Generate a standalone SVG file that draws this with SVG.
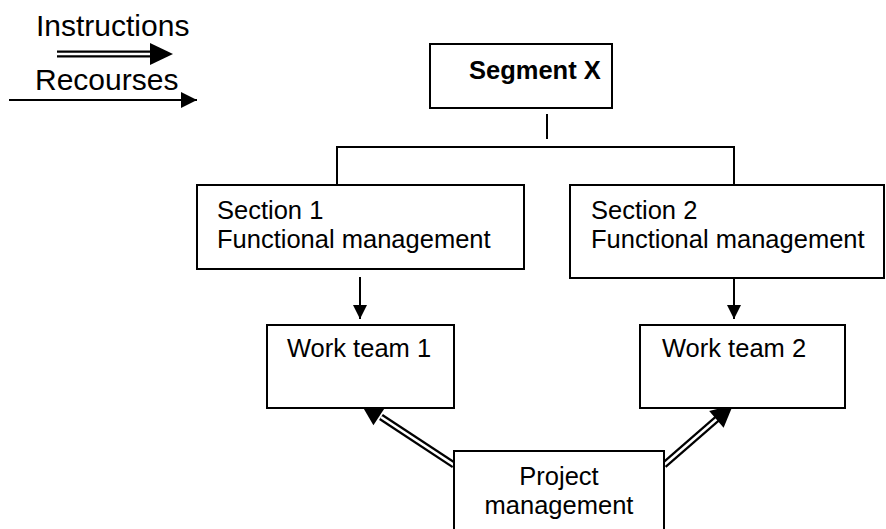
<svg xmlns="http://www.w3.org/2000/svg" width="886" height="529" viewBox="0 0 886 529">
<style>
  .box { fill: #ffffff; stroke: #000000; stroke-width: 2; }
  .line { stroke: #000000; stroke-width: 2; fill: none; }
  .txt { font-family: "Liberation Sans", Arial, sans-serif; font-size: 25.5px; fill: #000000; }
  .leg { font-family: "Liberation Sans", Arial, sans-serif; font-size: 30px; fill: #000000; }
  .bold { font-weight: bold; font-size: 25.5px; }
  .dblOuter { stroke: #000000; stroke-width: 7; fill: none; }
  .dblInner { stroke: #ffffff; stroke-width: 2.6; fill: none; }
  .head { fill: #000000; }
</style>
<defs>
  <marker id="arr" viewBox="0 0 14 14" refX="14" refY="7" markerWidth="14" markerHeight="14" markerUnits="userSpaceOnUse" orient="auto">
    <path d="M0,0 L14,7 L0,14 Z" fill="#000000"/>
  </marker>
  <marker id="arrL" viewBox="0 0 16 16" refX="16" refY="8" markerWidth="16" markerHeight="16" markerUnits="userSpaceOnUse" orient="auto">
    <path d="M0,0 L16,8 L0,16 Z" fill="#000000"/>
  </marker>
</defs>
<rect width="886" height="529" fill="#ffffff"/>

<g id="legend">
  <text class="leg" x="36" y="36">Instructions</text>
  <line class="dblOuter" x1="57" y1="54" x2="152" y2="54"/>
  <line class="dblInner" x1="55" y1="54" x2="152" y2="54"/>
  <polygon class="head" points="150,43 173,54 150,65"/>
  <text class="leg" x="35" y="90">Recourses</text>
  <line class="line" x1="9" y1="100" x2="197" y2="100" marker-end="url(#arrL)"/>
</g>

<g id="connectors">
  <line class="line" x1="547" y1="114" x2="547" y2="139"/>
  <polyline class="line" points="337,185 337,147 734,147 734,185"/>
  <line class="line" x1="360" y1="277" x2="360" y2="319" marker-end="url(#arr)"/>
  <line class="line" x1="734" y1="278" x2="734" y2="319" marker-end="url(#arr)"/>
  <line class="dblOuter" x1="454" y1="465" x2="381" y2="417"/>
  <line class="dblInner" x1="456" y1="466.3" x2="381" y2="417"/>
  <polygon class="head" points="361,404 385.4,406.9 373.4,425.3"/>
  <line class="dblOuter" x1="664" y1="465" x2="718" y2="418"/>
  <line class="dblInner" x1="662" y1="466.7" x2="718" y2="418"/>
  <polygon class="head" points="733,405 723.6,427.7 709.2,411.1"/>
</g>

<g id="segment-x">
  <rect class="box" x="430" y="44" width="182" height="64"/>
  <text class="txt bold" x="469" y="79">Segment X</text>
</g>

<g id="section-1">
  <rect class="box" x="197" y="185" width="327" height="84"/>
  <text class="txt" x="217" y="219">Section 1</text>
  <text class="txt" x="217" y="248">Functional management</text>
</g>

<g id="section-2">
  <rect class="box" x="570" y="185" width="314" height="93"/>
  <text class="txt" x="591" y="219">Section 2</text>
  <text class="txt" x="591" y="248">Functional management</text>
</g>

<g id="work-team-1">
  <rect class="box" x="267" y="325" width="187" height="83"/>
  <text class="txt" x="287" y="357">Work team 1</text>
</g>

<g id="work-team-2">
  <rect class="box" x="640" y="325" width="205" height="83"/>
  <text class="txt" x="662" y="357">Work team 2</text>
</g>

<g id="project-management">
  <rect class="box" x="454" y="451" width="210" height="90"/>
  <text class="txt" x="559" y="485" text-anchor="middle">Project</text>
  <text class="txt" x="559" y="514" text-anchor="middle">management</text>
</g>
</svg>
